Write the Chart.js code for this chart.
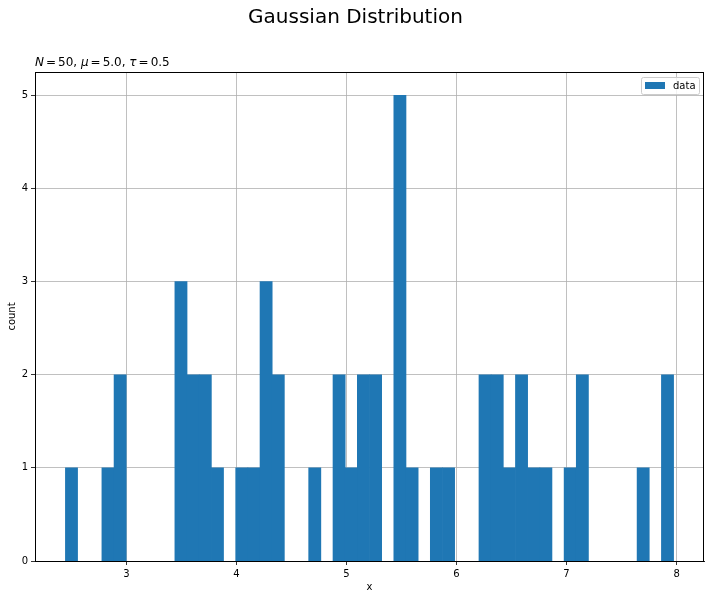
<!DOCTYPE html>
<html>
<head>
<meta charset="utf-8">
<script src="https://cdn.jsdelivr.net/npm/chart.js@4"></script>
<style>
  html, body { margin: 0; padding: 0; background: #fff; }
  #wrap { width: 711px; height: 599px; }
</style>
</head>
<body>
<div id="wrap"><canvas id="histo"></canvas></div>
<script>
// histograma de 50 valores, 50 bins
const counts = [1, 0, 0, 1, 2, 0, 0, 0, 0, 3,
                2, 2, 1, 0, 1, 1, 3, 2, 0, 0,
                1, 0, 2, 1, 2, 2, 0, 5, 1, 0,
                1, 1, 0, 0, 2, 2, 1, 2, 1, 1,
                0, 1, 2, 0, 0, 0, 0, 1, 0, 2];
const binLo = 2.4465;
const binHi = 7.973;
const xTicks = [3, 4, 5, 6, 7, 8];
const yTicks = [0, 1, 2, 3, 4, 5];

const binW = (binHi - binLo) / counts.length;
const points = counts.map((c, i) => ({ x: binLo + binW * (i + 0.5), y: c }));
const pad = (binHi - binLo) * 0.05;

const font = "'DejaVu Sans', sans-serif";
const blue = "#1f77b4";

// titulo, subtitulo, marco y leyenda al estilo matplotlib
const decor = {
  id: "decor",
  afterDraw(chart) {
    const { ctx, chartArea: a } = chart;
    ctx.save();
    ctx.strokeStyle = "#000";
    ctx.lineWidth = 1;
    ctx.strokeRect(Math.round(a.left) + 0.5, Math.round(a.top) + 0.5,
                   Math.round(a.right - a.left) - 1, Math.round(a.bottom - a.top));

    ctx.fillStyle = "#000";
    ctx.textBaseline = "alphabetic";
    ctx.textAlign = "center";
    ctx.font = "20px " + font;
    ctx.fillText("Gaussian Distribution", chart.width / 2, 23);

    const eq = "\u2006=\u2006";
    const parts = [["N", true], [eq + "50, ", false], ["μ", true], [eq + "5.0, ", false],
                   ["τ", true], [eq + "0.5", false]];
    ctx.textAlign = "left";
    let x = a.left;
    for (const [t, it] of parts) {
      ctx.font = (it ? "italic " : "") + "12px " + font;
      ctx.fillText(t, x, 66);
      x += ctx.measureText(t).width;
    }

    // leyenda
    const bx = 641.5, by = 77.5, bw = 58, bh = 17;
    ctx.beginPath();
    ctx.roundRect(bx, by, bw, bh, 2);
    ctx.fillStyle = "rgba(255,255,255,0.8)";
    ctx.fill();
    ctx.strokeStyle = "#cccccc";
    ctx.stroke();
    ctx.fillStyle = blue;
    ctx.fillRect(645, 82, 20, 7);
    ctx.fillStyle = "#000";
    ctx.font = "10px " + font;
    ctx.textBaseline = "middle";
    ctx.fillText("data", 673, 86);
    ctx.restore();
  }
};

new Chart(document.getElementById("histo"), {
  type: "bar",
  data: {
    datasets: [{
      label: "data",
      data: points,
      backgroundColor: (c) => (c.raw && c.raw.y > 0 ? blue : "rgba(0,0,0,0)"),
      borderWidth: 0,
      barPercentage: 1,
      categoryPercentage: 1,
    }],
  },
  options: {
    responsive: true,
    maintainAspectRatio: false,
    animation: false,
    layout: { padding: { top: 72, right: 7, left: 0, bottom: 0 } },
    plugins: {
      legend: { display: false },
      tooltip: { enabled: false },
    },
    scales: {
      x: {
        type: "linear",
        z: 1,
        offset: false,
        min: binLo - pad,
        max: binHi + pad,
        afterBuildTicks: (s) => { s.ticks = xTicks.map(v => ({ value: v })); },
        afterFit: (s) => { s.height = 38; },
        grid: { offset: false, color: "#b0b0b0", lineWidth: 0.8, tickLength: 4, tickColor: "#000" },
        border: { color: "#000", width: 1 },
        ticks: { color: "#000", font: { family: font, size: 10 }, padding: 3, maxRotation: 0 },
        title: { display: true, text: "x", color: "#000", font: { family: font, size: 10 }, padding: { top: 4, bottom: 6 } },
      },
      y: {
        z: 1,
        min: 0,
        max: 5.25,
        afterBuildTicks: (s) => { s.ticks = yTicks.map(v => ({ value: v })); },
        afterFit: (s) => { s.width = 35; },
        grid: { color: "#b0b0b0", lineWidth: 0.8, tickLength: 4, tickColor: "#000" },
        border: { color: "#000", width: 1 },
        ticks: { color: "#000", font: { family: font, size: 10 }, padding: 3 },
        title: { display: true, text: "count", color: "#000", font: { family: font, size: 10 }, padding: { top: 6, bottom: 0 } },
      },
    },
  },
  plugins: [decor],
});
</script>
</body>
</html>
